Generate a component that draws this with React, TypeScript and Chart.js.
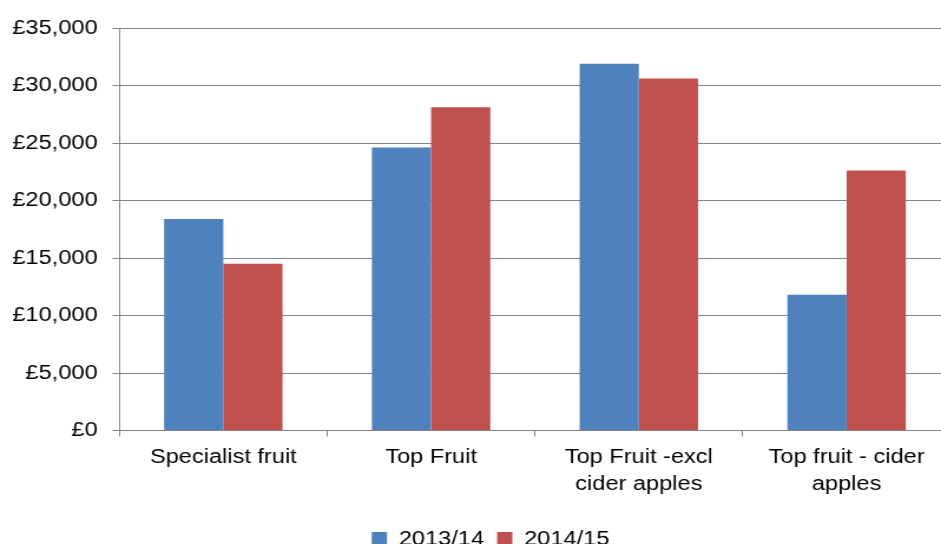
import React, { useEffect, useRef } from 'react';
import { Chart, registerables } from 'chart.js';

Chart.register(...registerables);

// ---- data ----
const categories: string[][] = [
  ['Specialist fruit'],
  ['Top Fruit'],
  ['Top Fruit -excl', 'cider apples'],
  ['Top fruit - cider', 'apples'],
];
const seriesNames: string[] = ['2013/14', '2014/15'];
const values2013: number[] = [18400, 24600, 31900, 11800];
const values2014: number[] = [14500, 28100, 30600, 22600];
const yTickValues: number[] = [0, 5000, 10000, 15000, 20000, 25000, 30000, 35000];

// ---- layout (canvas drawn narrower, then stretched horizontally like the source;
// the plot runs slightly past the right edge, as in the source) ----
const W = 806;
const H = 559;
const SX = 941 / 798;
const GRID = '#868686';
const FONT = "'Liberation Sans', Arial, sans-serif";

const legendShift = {
  id: 'legendShift',
  afterLayout(chart: any) {
    const l = chart.legend;
    if (l) {
      l.left += 14;
      l.right += 14;
    }
  },
};

export default function App() {
  const ref = useRef<HTMLCanvasElement | null>(null);

  useEffect(() => {
    if (!ref.current) return;
    const chart = new Chart(ref.current, {
      type: 'bar',
      data: {
        labels: categories as any,
        datasets: [
          {
            label: seriesNames[0],
            data: values2013,
            backgroundColor: '#4F81BD',
            borderWidth: 0,
            categoryPercentage: 0.57,
            barPercentage: 1,
          },
          {
            label: seriesNames[1],
            data: values2014,
            backgroundColor: '#C0504D',
            borderWidth: 0,
            categoryPercentage: 0.57,
            barPercentage: 1,
          },
        ],
      },
      options: {
        responsive: false,
        animation: false,
        devicePixelRatio: 1,
        layout: { padding: { left: -2, top: 28, right: 0, bottom: 0 } },
        plugins: {
          tooltip: { enabled: false },
          title: { display: false },
          legend: {
            display: true,
            position: 'bottom',
            labels: {
              boxWidth: 13,
              boxHeight: 14,
              padding: 11,
              color: '#000',
              font: { family: FONT, size: 20 },
            },
          },
        },
        scales: {
          x: {
            grid: {
              display: true,
              drawOnChartArea: false,
              drawTicks: true,
              tickLength: 6,
              color: GRID,
              offset: true,
            },
            border: { display: true, color: GRID, width: 1 },
            ticks: {
              color: '#000',
              padding: 7.5,
              maxRotation: 0,
              autoSkip: false,
              font: { family: FONT, size: 20, lineHeight: 1.35 },
            },
            afterFit: (scale: any) => {
              scale.height += 12.5;
            },
          },
          y: {
            min: 0,
            max: 35000,
            afterBuildTicks: (scale: any) => {
              scale.ticks = yTickValues.map((v) => ({ value: v }));
            },
            grid: {
              display: true,
              drawTicks: true,
              tickLength: 6,
              color: GRID,
              lineWidth: 1,
            },
            border: { display: true, color: GRID, width: 1 },
            ticks: {
              color: '#000',
              padding: 12.5,
              font: { family: FONT, size: 20, lineHeight: 1.2 },
              callback: (v: any) => '£' + Number(v).toLocaleString('en-GB'),
            },
          },
        },
      },
      plugins: [legendShift],
    });
    return () => chart.destroy();
  }, []);

  return (
    <div
      style={{
        position: 'absolute',
        left: 0,
        top: 0,
        width: 941,
        height: 544,
        overflow: 'hidden',
        background: '#fff',
      }}
    >
      <div style={{ width: W, height: H, transform: `scaleX(${SX})`, transformOrigin: '0 0' }}>
        <canvas ref={ref} width={W} height={H} style={{ display: 'block', width: W, height: H }} />
      </div>
    </div>
  );
}
